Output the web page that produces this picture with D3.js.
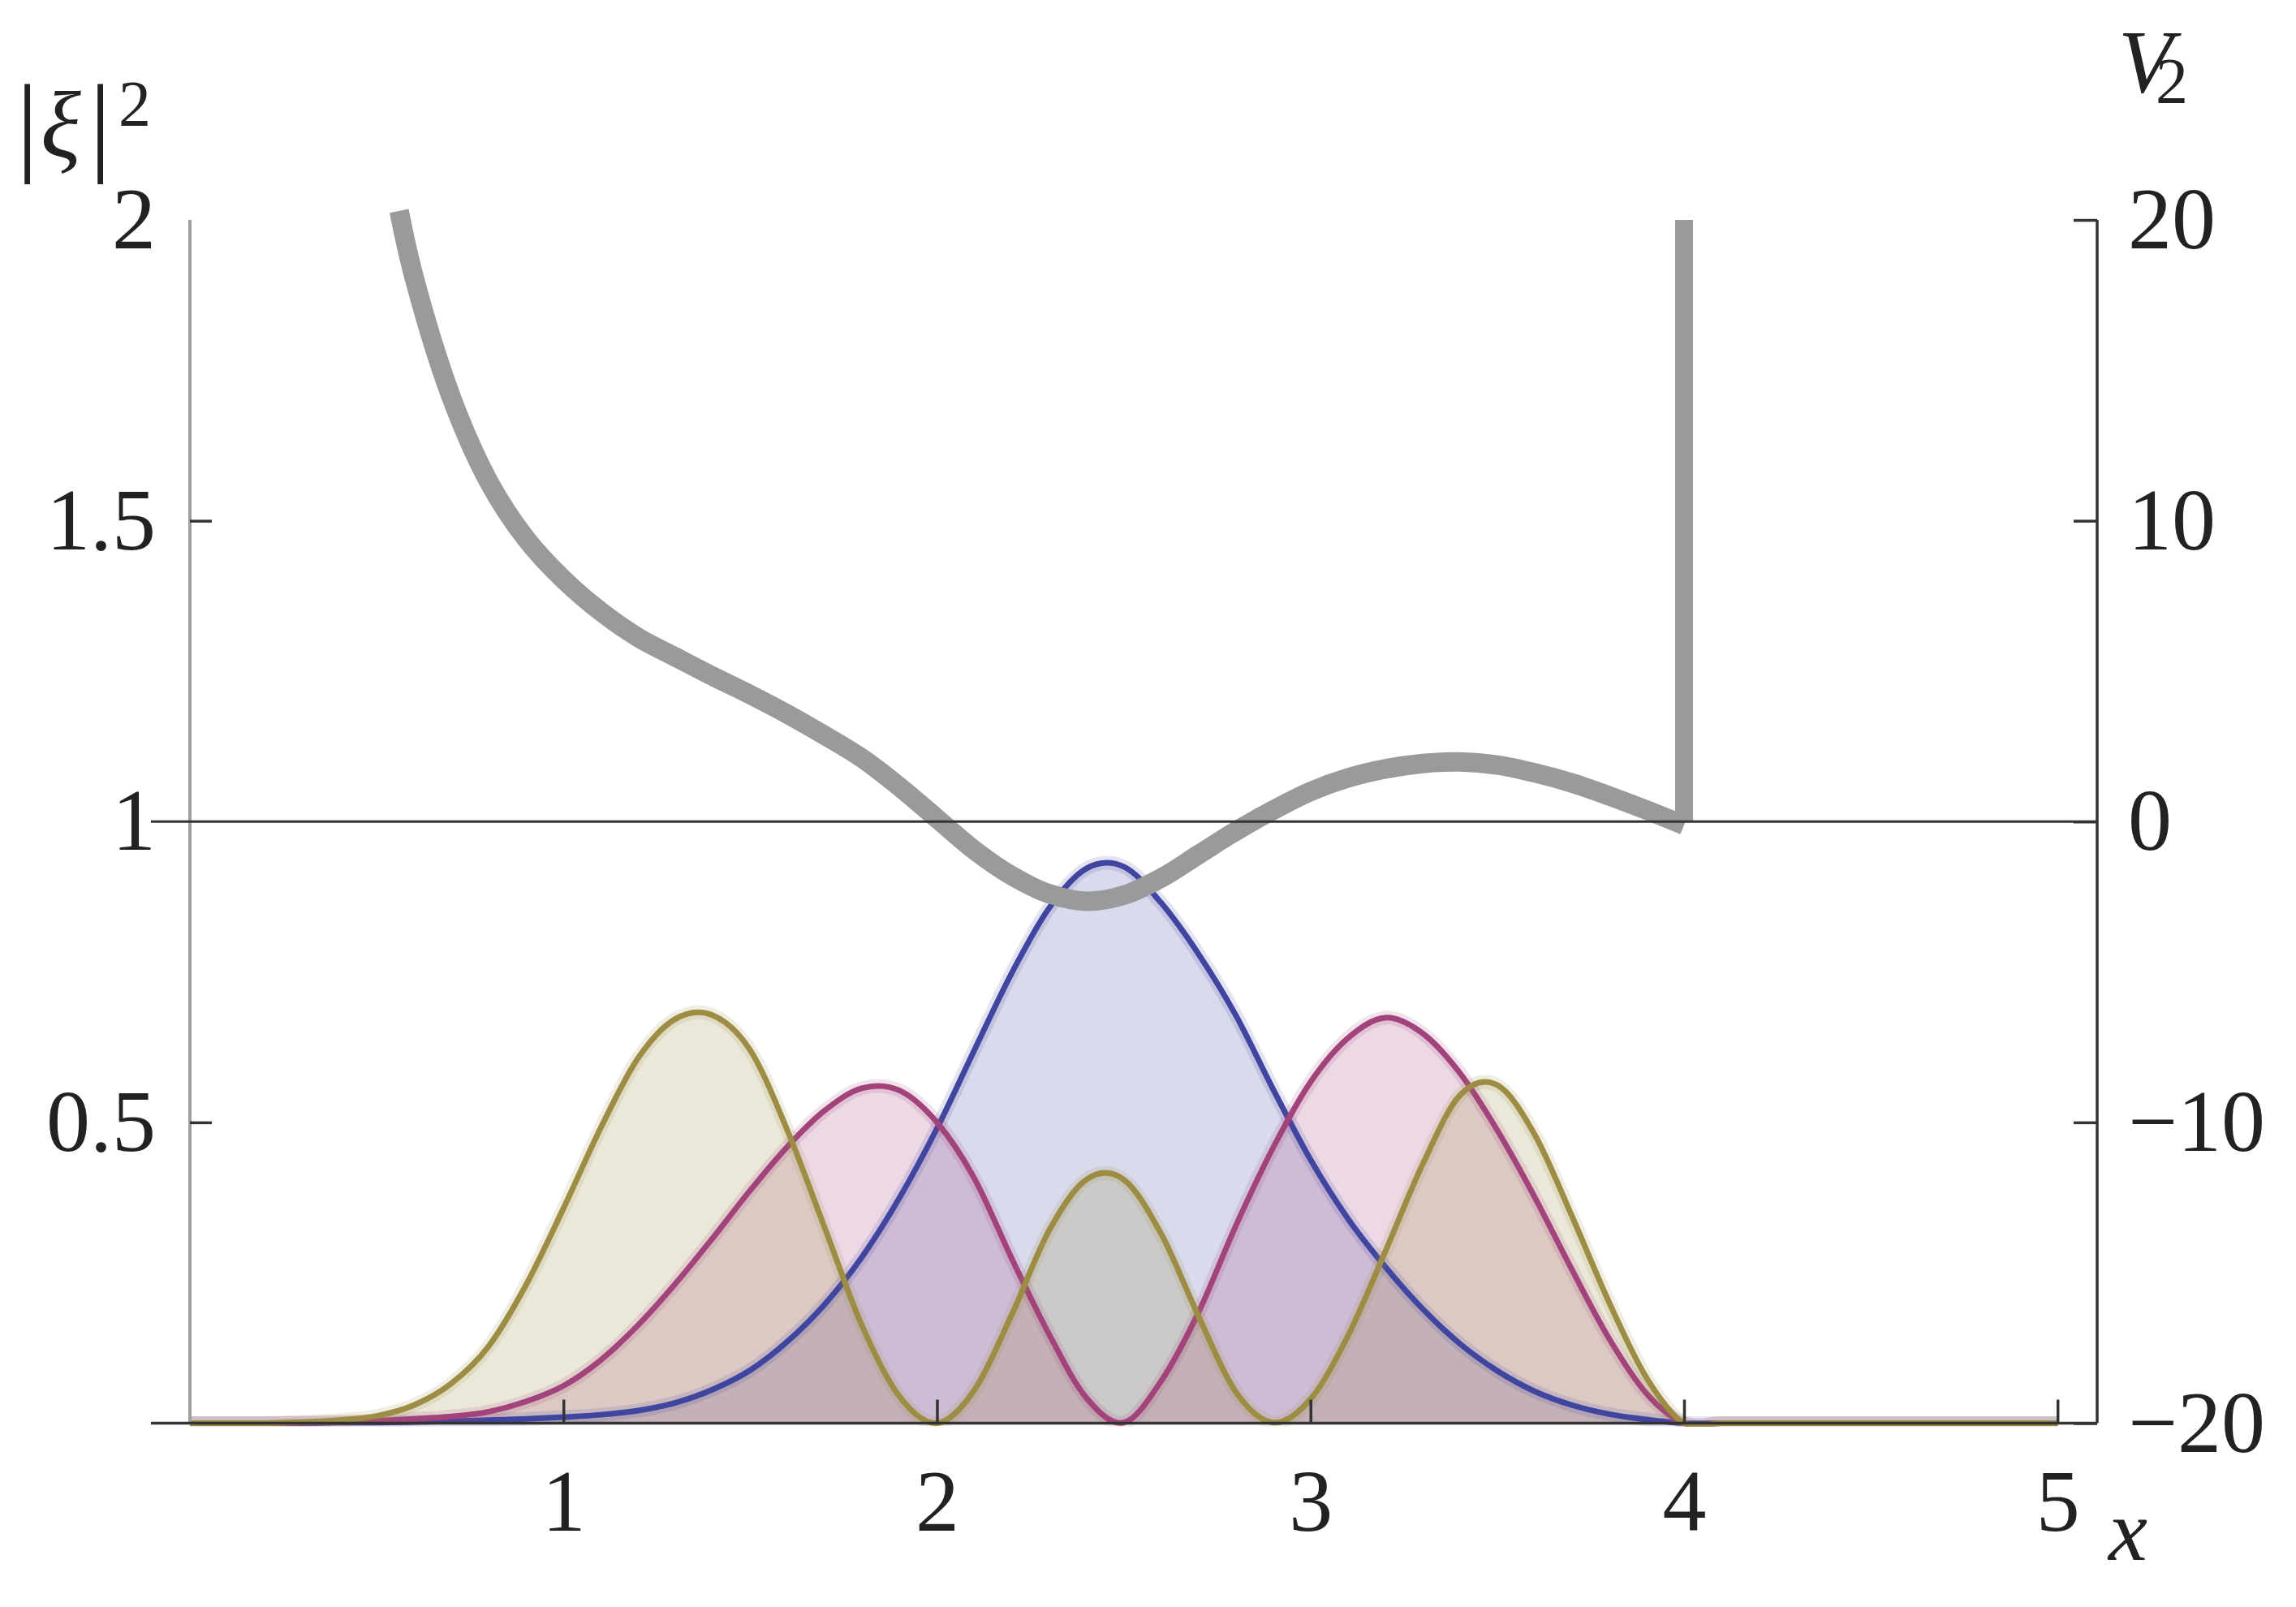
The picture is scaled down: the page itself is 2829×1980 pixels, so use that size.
<!DOCTYPE html>
<html>
<head>
<meta charset="utf-8">
<script src="https://d3js.org/d3.v7.min.js"></script>
<style>
  body { margin: 0; background: #fff; }
  svg text { font-family: "Liberation Serif", "Times New Roman", serif; fill: #222; }
</style>
</head>
<body>
<svg id="chart" width="2829" height="1980"></svg>
<script>
// x grid shared by the three densities (0 .. 5 step 0.1)
var xGrid = [0, 0.1, 0.2, 0.3, 0.4, 0.5, 0.6, 0.7, 0.8, 0.9,
             1.0, 1.1, 1.2, 1.3, 1.4, 1.5, 1.6, 1.7, 1.8, 1.9,
             2.0, 2.1, 2.2, 2.3, 2.4, 2.5, 2.6, 2.7, 2.8, 2.9,
             3.0, 3.1, 3.2, 3.3, 3.4, 3.5, 3.6, 3.7, 3.8, 3.9,
             4.0, 4.1, 4.2, 4.3, 4.4, 4.5, 4.6, 4.7, 4.8, 4.9, 5.0];

// |xi|^2 (zero beyond the wall at x = 4)
var pBlue = [0, 0, 0, 0, 0.001, 0.001, 0.002, 0.003, 0.005, 0.007,
             0.01, 0.014, 0.021, 0.034, 0.056, 0.088, 0.136, 0.198, 0.277, 0.375,
             0.49, 0.62, 0.748, 0.856, 0.922, 0.925, 0.865, 0.78, 0.678, 0.555,
             0.438, 0.34, 0.26, 0.19, 0.132, 0.087, 0.053, 0.03, 0.015, 0.006,
             0, 0, 0, 0, 0, 0, 0, 0, 0, 0, 0];
var pRed  = [0, 0, 0, 0.001, 0.002, 0.004, 0.007, 0.011, 0.019, 0.036,
             0.062, 0.105, 0.163, 0.232, 0.308, 0.387, 0.46, 0.52, 0.557, 0.553,
             0.5, 0.407, 0.274, 0.148, 0.042, 0.001, 0.07, 0.184, 0.328, 0.458,
             0.567, 0.64, 0.674, 0.648, 0.582, 0.487, 0.376, 0.255, 0.14, 0.049,
             0, 0, 0, 0, 0, 0, 0, 0, 0, 0, 0];
var pGold = [0, 0, 0, 0.002, 0.005, 0.012, 0.03, 0.066, 0.128, 0.23,
             0.357, 0.491, 0.607, 0.672, 0.678, 0.62, 0.486, 0.324, 0.161, 0.044,
             0, 0.055, 0.18, 0.32, 0.405, 0.405, 0.315, 0.178, 0.052, 0.001,
             0.04, 0.145, 0.285, 0.43, 0.545, 0.562, 0.48, 0.344, 0.2, 0.075,
             0, 0, 0, 0, 0, 0, 0, 0, 0, 0, 0];

// potential V2 (right axis)
var xPot = [0.56, 0.6, 0.7, 0.8, 0.9, 1.0, 1.1, 1.2, 1.3, 1.4, 1.5, 1.6, 1.7, 1.8, 1.9,
            2.0, 2.1, 2.2, 2.3, 2.4, 2.5, 2.6, 2.7, 2.8, 2.9,
            3.0, 3.1, 3.2, 3.3, 3.4, 3.5, 3.6, 3.7, 3.8, 3.9, 4.0];
var vPot = [20.3, 18.1, 14.1, 11.3, 9.4, 8.05, 6.98, 6.12, 5.47, 4.83, 4.22, 3.57, 2.86, 2.1, 1.15,
            0.1, -0.95, -1.8, -2.4, -2.65, -2.45, -1.88, -1.1, -0.32, 0.38,
            1.0, 1.45, 1.75, 1.93, 1.98, 1.88, 1.62, 1.28, 0.85, 0.38, -0.12];
var wallX = 4, wallTop = 20, wallBottom = 0;

var xTicks = [1, 2, 3, 4, 5];
var leftTicks = [0.5, 1, 1.5, 2];
var rightTicks = [-20, -10, 0, 10, 20];

var series = [
  {p: pBlue, color: "#4045a0"},
  {p: pRed, color: "#a3437b"},
  {p: pGold, color: "#9d8c43"}
];

var svg = d3.select("#chart");
var frameLeft = 234, frameRight = 2584, frameTop = 271, frameBottom = 1753.5;

var x = d3.scaleLinear().domain([0, 5.106]).range([frameLeft, frameRight]);
var y = d3.scaleLinear().domain([0, 2]).range([frameBottom, frameTop]);
var yV = d3.scaleLinear().domain([-20, 20]).range([frameBottom, frameTop]);

// keep the densities above the baseline (spline may dip a hair below zero)
svg.append("defs").append("clipPath").attr("id", "above")
  .append("rect")
  .attr("x", frameLeft - 10).attr("y", 0)
  .attr("width", frameRight - frameLeft + 20).attr("height", frameBottom + 4);

var plot = svg.append("g").attr("clip-path", "url(#above)");
var curve = d3.curveCatmullRom.alpha(0);

// fills
series.forEach(function(s) {
  var pts = xGrid.map(function(v, i) { return [v, s.p[i]]; });
  plot.append("path")
    .attr("d", d3.area().x(d => x(d[0])).y0(y(0)).y1(d => y(d[1])).curve(curve)(pts))
    .attr("fill", s.color)
    .attr("fill-opacity", 0.2);
});

// lines with light halo
series.forEach(function(s) {
  var pts = xGrid.map(function(v, i) { return [v, s.p[i]]; });
  var line = d3.line().x(d => x(d[0])).y(d => y(d[1])).curve(curve);
  plot.append("path")
    .attr("d", line(pts))
    .attr("fill", "none")
    .attr("stroke", s.color)
    .attr("stroke-opacity", 0.15)
    .attr("stroke-width", 17);
  plot.append("path")
    .attr("d", line(pts))
    .attr("fill", "none")
    .attr("stroke", s.color)
    .attr("stroke-width", 7);
});

// potential
var potPts = xPot.map(function(v, i) { return [v, vPot[i]]; });
svg.append("path")
  .attr("d", d3.line().x(d => x(d[0])).y(d => yV(d[1])).curve(d3.curveCatmullRom.alpha(0.5))(potPts))
  .attr("fill", "none")
  .attr("stroke", "#999a9c")
  .attr("stroke-width", 24);
svg.append("line")
  .attr("x1", x(wallX)).attr("x2", x(wallX))
  .attr("y1", yV(wallBottom)).attr("y2", yV(wallTop))
  .attr("stroke", "#999a9c")
  .attr("stroke-width", 22);

// axes
var axisColor = "#333";
var fontSize = "108px";

// left axis line (grey)
svg.append("line")
  .attr("x1", frameLeft).attr("x2", frameLeft).attr("y1", frameTop).attr("y2", frameBottom)
  .attr("stroke", "#a0a0a0").attr("stroke-width", 4);

// horizontal reference line at |xi|^2 = 1 (V2 = 0)
svg.append("line")
  .attr("x1", 186).attr("x2", frameRight).attr("y1", y(1)).attr("y2", y(1))
  .attr("stroke", axisColor).attr("stroke-width", 3);

// bottom axis line
svg.append("line")
  .attr("x1", 186).attr("x2", frameRight).attr("y1", frameBottom).attr("y2", frameBottom)
  .attr("stroke", axisColor).attr("stroke-width", 3.5);

// right axis line
svg.append("line")
  .attr("x1", frameRight).attr("x2", frameRight).attr("y1", frameTop).attr("y2", frameBottom)
  .attr("stroke", axisColor).attr("stroke-width", 3.5);

var gx = svg.append("g")
  .attr("transform", "translate(0," + frameBottom + ")")
  .call(d3.axisBottom(x).tickValues(xTicks).tickFormat(d3.format("d")).tickSizeInner(-29).tickSizeOuter(0).tickPadding(56));

var gl = svg.append("g")
  .attr("transform", "translate(" + frameLeft + ",0)")
  .call(d3.axisLeft(y).tickValues(leftTicks).tickFormat(d => d === 0.5 ? "0.5" : d === 1.5 ? "1.5" : d3.format("d")(d)).tickSizeInner(-27).tickSizeOuter(0).tickPadding(42));
gl.selectAll(".tick line").filter(d => d === 1 || d === 2).remove();

var gr = svg.append("g")
  .attr("transform", "translate(" + frameRight + ",0)")
  .call(d3.axisRight(yV).tickValues(rightTicks).tickSizeInner(-29).tickSizeOuter(0).tickPadding(38));

[gx, gl, gr].forEach(function(g) {
  g.select(".domain").remove();
  g.selectAll(".tick line").attr("stroke", axisColor).attr("stroke-width", 3.5);
  g.selectAll(".tick text")
    .attr("font-family", "Liberation Serif")
    .attr("font-size", fontSize)
    .attr("fill", "#222");
});

// axis labels
var lab = svg.append("g");
lab.append("text").attr("x", 20).attr("y", 198)
  .style("font-size", "136px").text("|");
lab.append("text").attr("x", 50).attr("y", 193)
  .style("font-size", "116px").style("font-style", "italic").text("ξ");
lab.append("text").attr("x", 110).attr("y", 198)
  .style("font-size", "136px").text("|");
lab.append("text").attr("x", 146).attr("y", 155)
  .style("font-size", "80px").text("2");

lab.append("text").attr("x", 2610).attr("y", 113)
  .style("font-size", "110px").style("font-style", "italic").text("V");
lab.append("text").attr("x", 2656).attr("y", 127)
  .style("font-size", "80px").text("2");

lab.append("text").attr("x", 2598).attr("y", 1922)
  .style("font-size", "108px").style("font-style", "italic").text("x");
</script>
</body>
</html>
